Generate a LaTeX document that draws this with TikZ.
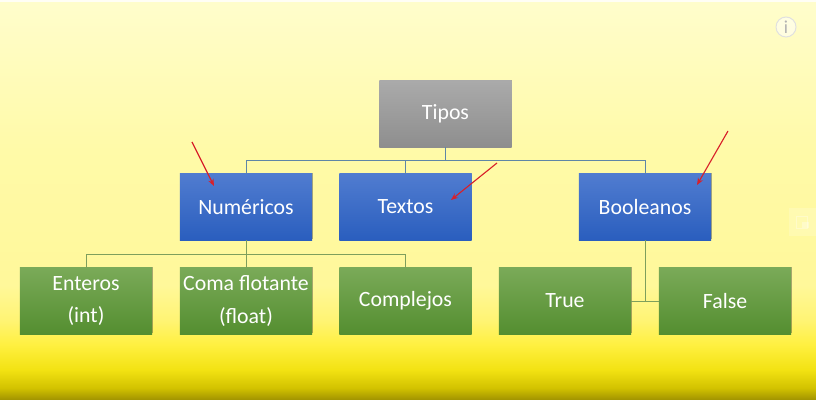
\documentclass[tikz,border=0pt]{standalone}
\usepackage{fontspec}
\setmainfont{Carlito}
\usetikzlibrary{arrows.meta}
\usetikzlibrary{shadows}

\definecolor{bgA}{HTML}{A09200}
\definecolor{bgB}{HTML}{D2C200}
\definecolor{bgC}{HTML}{F2E212}
\definecolor{bgD}{HTML}{FFF040}
\definecolor{bgE}{HTML}{FFF474}
\definecolor{bgF}{HTML}{FFF89A}
\definecolor{bgG}{HTML}{FFFAA8}
\definecolor{bgH}{HTML}{FFFDCC}
\definecolor{linkblue}{HTML}{5F86A6}
\definecolor{linkgreen}{HTML}{7E9F5C}
\definecolor{arrowred}{HTML}{D8202A}
\definecolor{grayhi}{HTML}{AAAAAA}
\definecolor{graylo}{HTML}{8E8E8E}
\definecolor{bluehi}{HTML}{507CD0}
\definecolor{bluelo}{HTML}{2A5EBE}
\definecolor{greenhi}{HTML}{7AAA58}
\definecolor{greenlo}{HTML}{548E30}

% the picture's height sits on 25bp to 75bp of the shading
\pgfdeclareverticalshading{slidebg}{100bp}{
  color(0bp)=(bgA); color(25bp)=(bgA); color(26.5bp)=(bgB); color(28.75bp)=(bgC);
  color(31.9bp)=(bgD); color(35bp)=(bgE); color(39.4bp)=(bgF); color(56.25bp)=(bgG);
  color(75bp)=(bgH); color(100bp)=(bgH)}

\tikzset{
  box/.style={minimum width=3.3cm, minimum height=1.65cm, inner sep=0pt,
    align=center, text=white, font=\fontsize{15.5}{23}\selectfont,
    drop shadow={shadow xshift=0.4pt, shadow yshift=0.9pt, opacity=.4, fill=black!80}},
  graybox/.style={box, top color=grayhi, bottom color=graylo},
  bluebox/.style={box, top color=bluehi, bottom color=bluelo},
  greenbox/.style={box, top color=greenhi, bottom color=greenlo},
  bluelink/.style={linkblue, line width=0.7pt},
  greenlink/.style={linkgreen, line width=0.7pt},
  redarrow/.style={arrowred, line width=0.8pt, -{Stealth[length=5pt,width=4pt]}}
}

\begin{document}
\begin{tikzpicture}[x=0.025cm, y=-0.025cm]

\useasboundingbox (0,0) rectangle (816,400);
\shade[shading=slidebg] (0,0) rectangle (816,400);
\fill[yellow!4!white] (0,0) rectangle (816,2);

\coordinate (busA) at (445.5,160);
\coordinate (busB) at (246,254);

\node[graybox] (tipos) at (445.5,114) {Tipos};
\node[bluebox] (numericos) at (246,207) {Numéricos};
\node[bluebox] (textos) at (405.5,207) {Textos};
\node[bluebox] (booleanos) at (645,207) {Booleanos};
\node[greenbox] (enteros) at (86,301) {Enteros\\(int)};
\node[greenbox] (coma) at (246,301) {Coma flotante\\(float)};
\node[greenbox] (complejos) at (405.5,301) {Complejos};
\node[greenbox] (true) at (565,301) {True};
\node[greenbox] (false) at (725,301) {False};

\draw[bluelink] (tipos.south) -- (busA);
\draw[bluelink] (busA) -| (numericos.north);
\draw[bluelink] (busA) -| (textos.north);
\draw[bluelink] (busA) -| (booleanos.north);

\draw[greenlink] (numericos.south) -- (coma.north);
\draw[greenlink] (busB) -| (enteros.north);
\draw[greenlink] (busB) -| (complejos.north);
\draw[greenlink] (booleanos.south) |- (true.east);
\draw[greenlink] (booleanos.south) |- (false.west);

\coordinate (redA) at (192,142);
\coordinate (redAend) at (214,186);
\coordinate (redB) at (497,163);
\coordinate (redBend) at (451,200);
\coordinate (redC) at (728,131);
\coordinate (redCend) at (697,185);
\draw[redarrow] (redA)--(redAend);
\draw[redarrow] (redB)--(redBend);
\draw[redarrow] (redC)--(redCend);

% overlay icons
\node[circle, draw=black!12, fill=white, fill opacity=.5, text opacity=1, line width=0.7pt,
  minimum size=0.5cm, inner sep=0pt, text=black!30, font=\fontsize{13}{13}\selectfont] (info) at (786,27) {i};
\node[fill=white, fill opacity=.18, minimum width=0.68cm, minimum height=0.72cm, inner sep=0pt] (pip) at (803,222) {};
\draw[white, opacity=.3, line width=0.7pt] (pip.center) ++(-7,-6) rectangle ++(11,12);
\fill[white, opacity=.3] (pip.center) ++(-1,0) rectangle ++(7,6);

\end{tikzpicture}
\end{document}
